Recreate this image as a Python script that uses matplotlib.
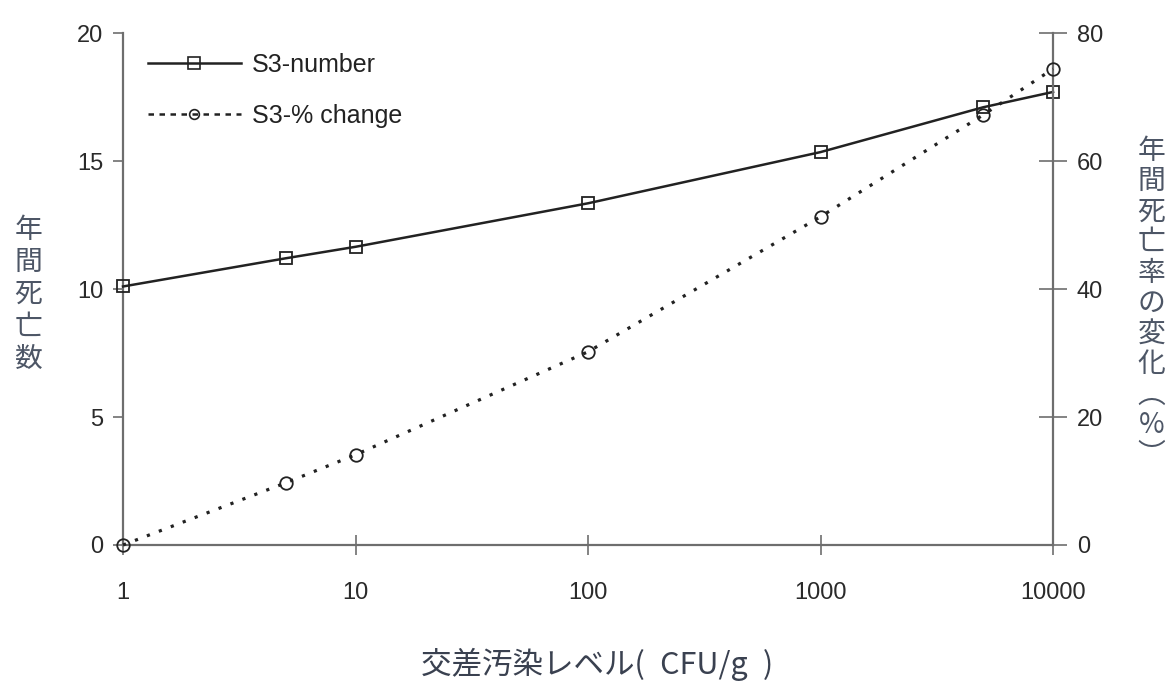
import matplotlib
matplotlib.use("Agg")
import matplotlib.pyplot as plt
from matplotlib.lines import Line2D

# contamination level (CFU/g)
level = [1, 5, 10, 100, 1000, 5000, 10000]
# annual deaths, left axis
s3_number = [10.1, 11.2, 11.65, 13.35, 15.35, 17.1, 17.7]
# change in annual mortality (%), right axis
s3_change = [0, 9.7, 14.1, 30.2, 51.3, 67.2, 74.4]

xticks = [1, 10, 100, 1000, 10000]
xticklabels = ["1", "10", "100", "1000", "10000"]
yticks_left = [0, 5, 10, 15, 20]
yticks_right = [0, 20, 40, 60, 80]

plt.rcParams['font.family'] = ['Liberation Sans', 'DejaVu Sans']

fig = plt.figure(figsize=(11.75, 6.89), dpi=100)
ax = fig.add_axes([0.1047, 0.209, 0.7915, 0.743])
ax2 = ax.twinx()

line_col = "#222222"
axis_col = "#6e6e6e"

ax.plot(level, s3_number, '-', color=line_col, lw=1.8, marker='s', ms=9,
        mfc='none', mec=line_col, mew=1.3, clip_on=False, zorder=3)
ax2.plot(level, s3_change, color=line_col, lw=2.3, ls=(0, (1, 3.0)), marker='o', ms=9,
         mfc='none', mec=line_col, mew=1.3, clip_on=False, zorder=3)

ax.set_xscale('log')
ax.set_xlim(1, 10000)
ax.set_ylim(0, 20)
ax2.set_ylim(0, 80)
ax.set_xticks(xticks)
ax.set_xticklabels(xticklabels)
ax.minorticks_off()
ax.set_yticks(yticks_left)
ax2.set_yticks(yticks_right)

for a in (ax, ax2):
    a.spines['top'].set_visible(False)
    for s in a.spines.values():
        s.set_color(axis_col)
        s.set_linewidth(1.6)
    a.patch.set_visible(False)
ax.spines['right'].set_visible(False)
ax2.spines['left'].set_visible(False)
ax2.spines['bottom'].set_visible(False)

ax.tick_params(axis='y', direction='out', length=7, width=1.2, color=axis_col,
               labelsize=17, labelcolor="#2a2a2a", pad=7)
ax.tick_params(axis='x', direction='inout', length=14, width=1.2, color=axis_col,
               labelsize=17, labelcolor="#2a2a2a", pad=20)
ax2.tick_params(axis='y', direction='inout', length=20, width=1.2, color=axis_col,
                labelsize=17, labelcolor="#2a2a2a", pad=7)

cjk = ['Noto Sans CJK JP', 'DejaVu Sans']
lab_col = "#4d5666"
fig.text(0.024, 0.573, "\n".join("年間死亡数"), family=cjk, fontsize=20,
         color=lab_col, ha='center', va='center', linespacing=1.1)
fig.text(0.980, 0.56, "\n".join("年間死亡率の変化︵%︶"), family=cjk, fontsize=20,
         color=lab_col, ha='center', va='center', linespacing=1.02)
fig.text(0.508, 0.035, "交差汚染レベル(\u2002CFU/g\u2002)", family=cjk, fontsize=22,
         color="#3a4150", ha='center', va='center')

handles = [
    Line2D([], [], color=line_col, lw=1.8, marker='s', ms=8, mfc='none', mew=1.2),
    Line2D([], [], color=line_col, lw=1.8, ls=(0, (2.2, 2.2)), marker='o', ms=7,
           mfc='none', mew=1.2),
]
ax.legend(handles, ["S3-number", "S3-% change"], loc='upper left',
          bbox_to_anchor=(0.027, 0.962), borderaxespad=0, borderpad=0,
          frameon=False, fontsize=18, handlelength=3.7, handletextpad=0.45,
          labelspacing=1.1, labelcolor="#222222")

fig.savefig("out.png", dpi=100, facecolor='white')
